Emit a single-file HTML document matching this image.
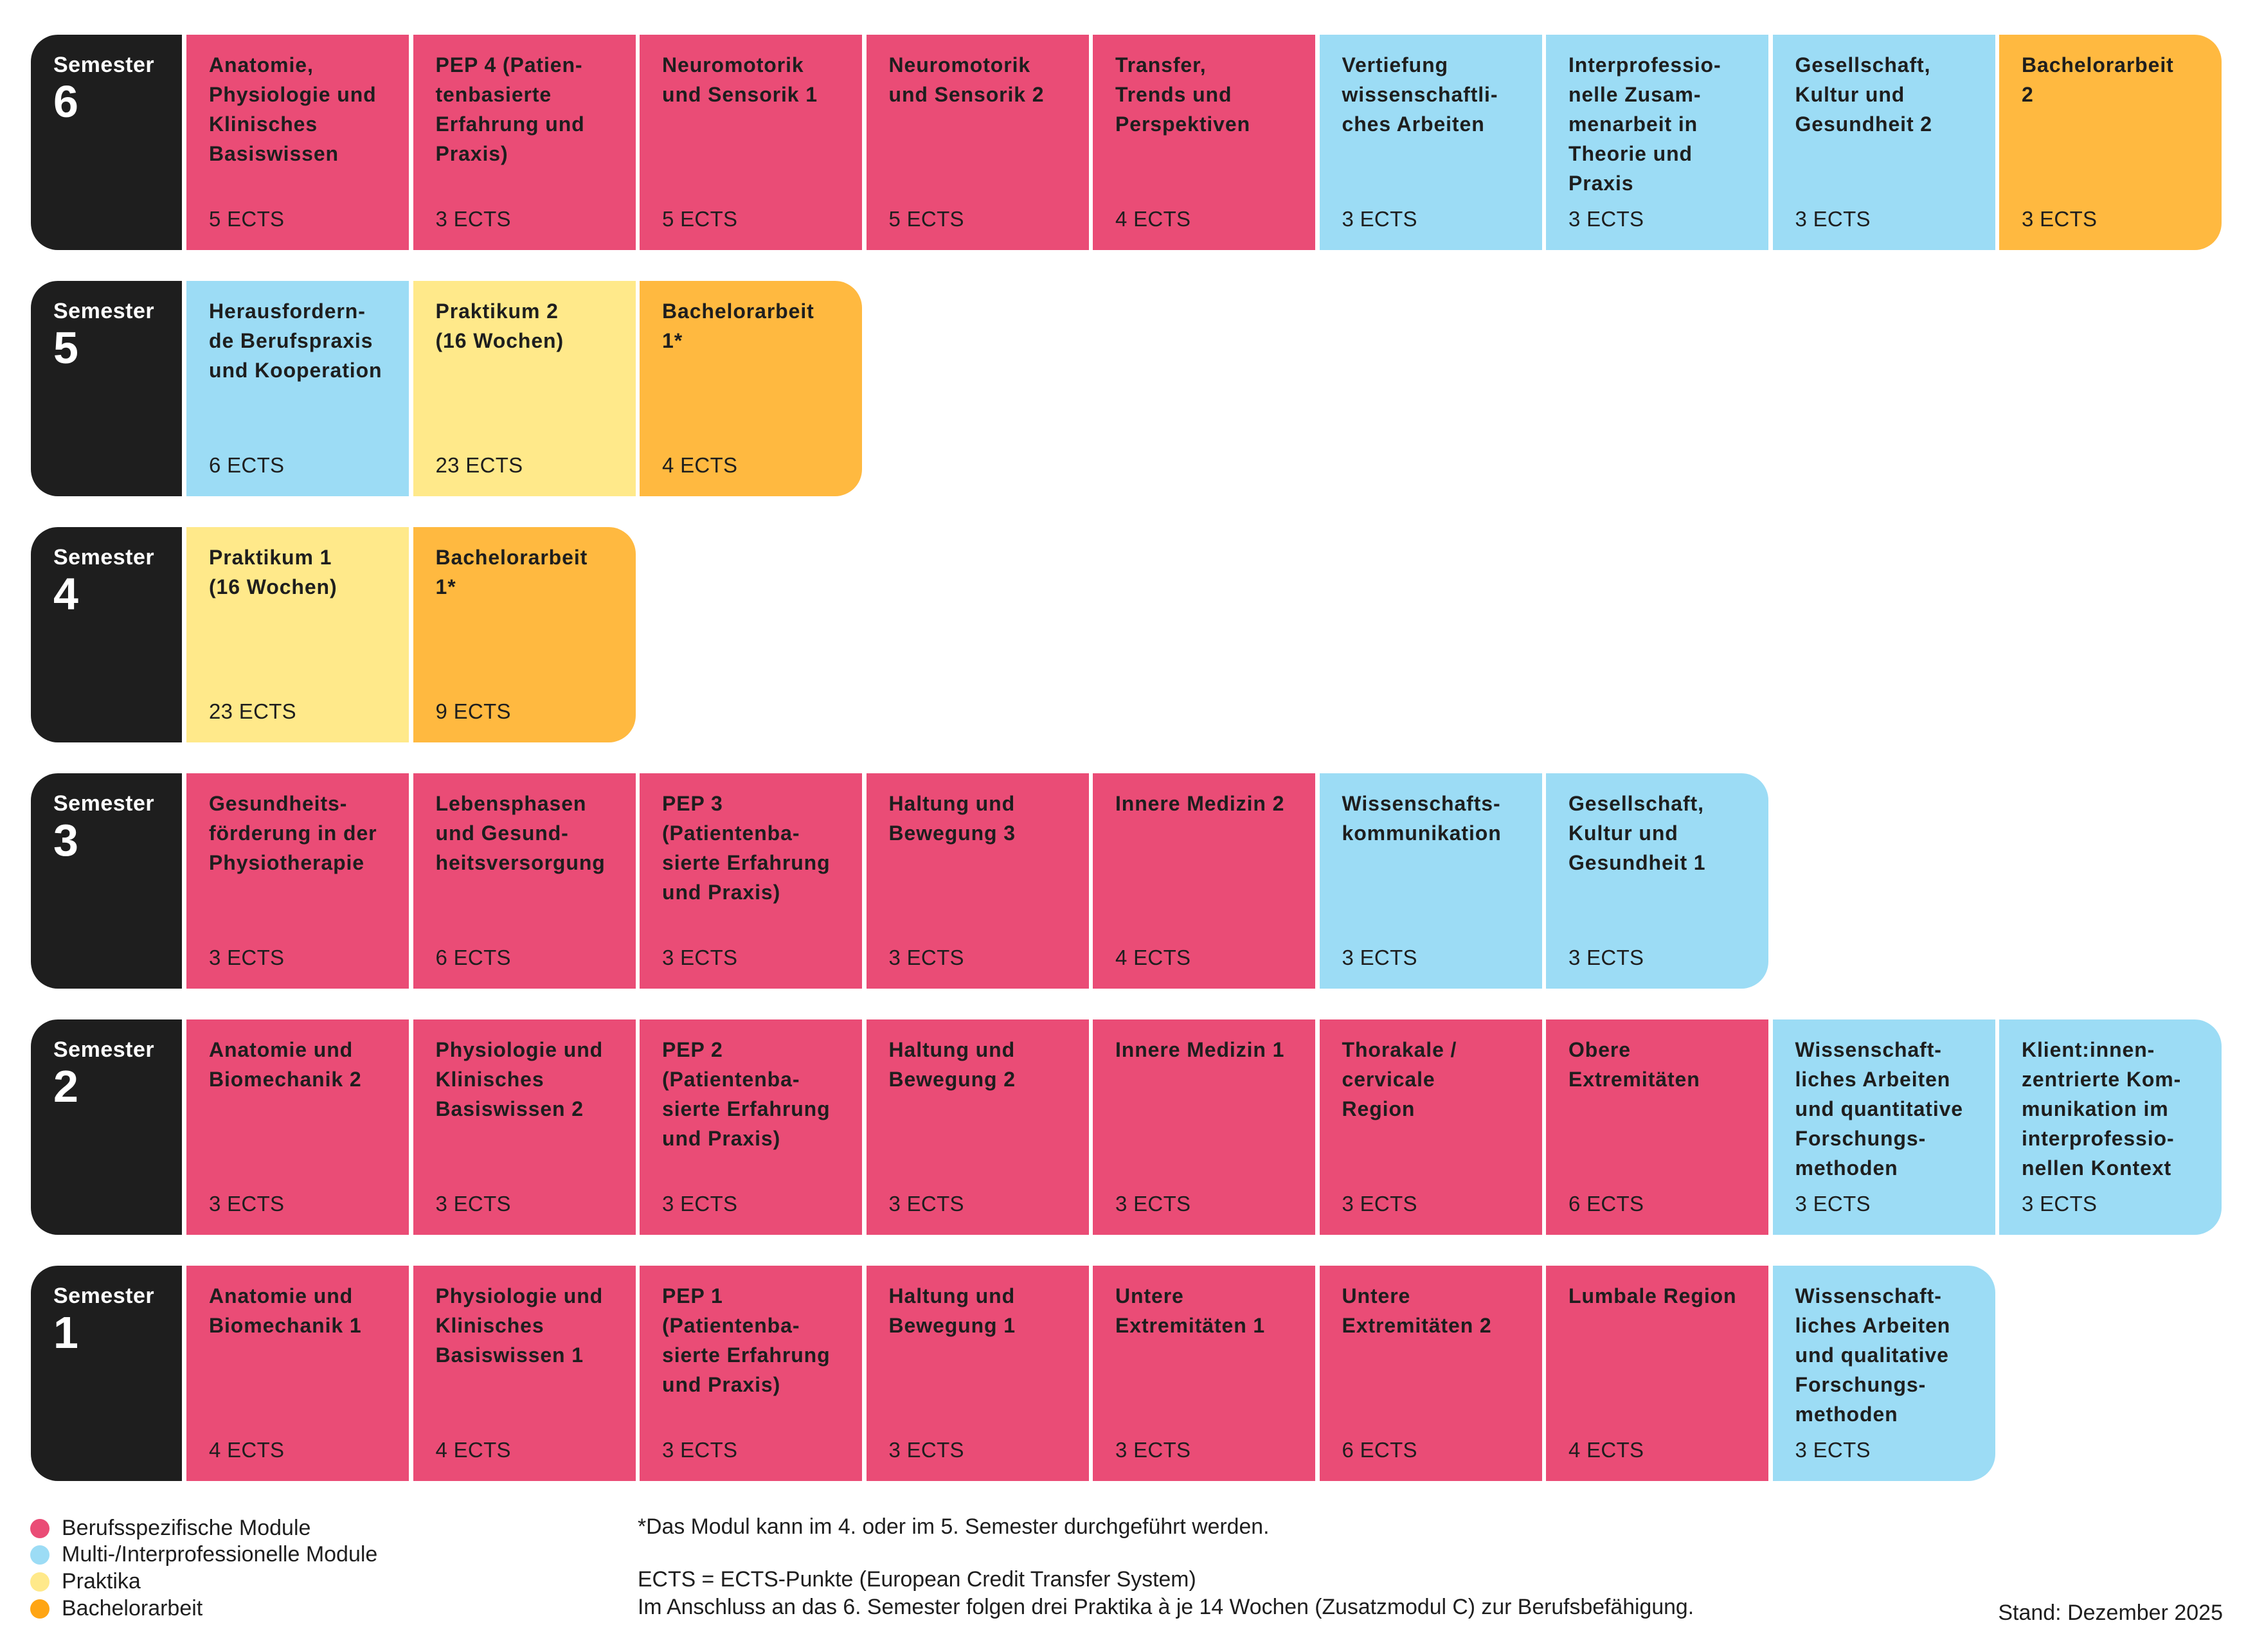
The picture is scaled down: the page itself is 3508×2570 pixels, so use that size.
<!DOCTYPE html>
<html><head><meta charset="utf-8"><style>
body{margin:0;width:3508px;height:2570px;background:#fff;position:relative;overflow:hidden;font-family:"Liberation Sans",Arial,sans-serif;color:#1e1e1e}
.c{position:absolute;height:335px;box-sizing:border-box}
.s{background:#1e1e1e;color:#fff;border-radius:42px 0 0 42px;left:48px;width:235px}
.s .a{position:absolute;left:35px;top:24px;font-weight:bold;font-size:34px;line-height:46px;letter-spacing:0.5px}
.s .n{position:absolute;left:35px;top:69px;font-weight:bold;font-size:70px;line-height:1}
.m .t{position:absolute;left:35px;top:24px;font-weight:bold;font-size:32px;line-height:46px;letter-spacing:0.9px;white-space:nowrap}
.m .e{position:absolute;left:35px;top:264px;font-size:33px;line-height:46px;letter-spacing:0.3px}
.p{background:#ea4c76}.b{background:#9cdcf5}.y{background:#ffe98a}.o{background:#ffb940}
.r{border-radius:0 42px 42px 0}
.lg{position:absolute;left:96px;font-size:34px;line-height:42px}
.d{position:absolute;left:47px;width:30px;height:30px;border-radius:50%}
.nt{position:absolute;left:992px;font-size:33.8px;line-height:42px}
</style></head><body>
<div id="w"></div>
<script>
var rows=[
["6",[["p","Anatomie,<br>Physiologie und<br>Klinisches<br>Basiswissen","5"],["p","PEP 4 (Patien-<br>tenbasierte<br>Erfahrung und<br>Praxis)","3"],["p","Neuromotorik<br>und Sensorik 1","5"],["p","Neuromotorik<br>und Sensorik 2","5"],["p","Transfer,<br>Trends und<br>Perspektiven","4"],["b","Vertiefung<br>wissenschaftli-<br>ches Arbeiten","3"],["b","Interprofessio-<br>nelle Zusam-<br>menarbeit in<br>Theorie und<br>Praxis","3"],["b","Gesellschaft,<br>Kultur und<br>Gesundheit 2","3"],["o","Bachelorarbeit<br>2","3"]]],
["5",[["b","Herausfordern-<br>de Berufspraxis<br>und Kooperation","6"],["y","Praktikum 2<br>(16 Wochen)","23"],["o","Bachelorarbeit<br>1*","4"]]],
["4",[["y","Praktikum 1<br>(16 Wochen)","23"],["o","Bachelorarbeit<br>1*","9"]]],
["3",[["p","Gesundheits-<br>förderung in der<br>Physiotherapie","3"],["p","Lebensphasen<br>und Gesund-<br>heitsversorgung","6"],["p","PEP 3<br>(Patientenba-<br>sierte Erfahrung<br>und Praxis)","3"],["p","Haltung und<br>Bewegung 3","3"],["p","Innere Medizin 2","4"],["b","Wissenschafts-<br>kommunikation","3"],["b","Gesellschaft,<br>Kultur und<br>Gesundheit 1","3"]]],
["2",[["p","Anatomie und<br>Biomechanik 2","3"],["p","Physiologie und<br>Klinisches<br>Basiswissen 2","3"],["p","PEP 2<br>(Patientenba-<br>sierte Erfahrung<br>und Praxis)","3"],["p","Haltung und<br>Bewegung 2","3"],["p","Innere Medizin 1","3"],["p","Thorakale /<br>cervicale<br>Region","3"],["p","Obere<br>Extremitäten","6"],["b","Wissenschaft-<br>liches Arbeiten<br>und quantitative<br>Forschungs-<br>methoden","3"],["b","Klient:innen-<br>zentrierte Kom-<br>munikation im<br>interprofessio-<br>nellen Kontext","3"]]],
["1",[["p","Anatomie und<br>Biomechanik 1","4"],["p","Physiologie und<br>Klinisches<br>Basiswissen 1","4"],["p","PEP 1<br>(Patientenba-<br>sierte Erfahrung<br>und Praxis)","3"],["p","Haltung und<br>Bewegung 1","3"],["p","Untere<br>Extremitäten 1","3"],["p","Untere<br>Extremitäten 2","6"],["p","Lumbale Region","4"],["b","Wissenschaft-<br>liches Arbeiten<br>und qualitative<br>Forschungs-<br>methoden","3"]]]];
var h="";
rows.forEach(function(r,i){var top=54+i*383;
h+='<div class="c s" style="top:'+top+'px"><div class="a">Semester</div><div class="n">'+r[0]+'</div></div>';
r[1].forEach(function(m,j){var l=290+j*352.5;var last=j==r[1].length-1;
h+='<div class="c m '+m[0]+(last?' r':'')+'" style="top:'+top+'px;left:'+l+'px;width:346px"><div class="t">'+m[1]+'</div><div class="e">'+m[2]+' ECTS</div></div>';});});
document.getElementById("w").innerHTML=h;
</script>
<div class="d" style="top:2363px;background:#ea4c76"></div><div class="lg" style="top:2356px">Berufsspezifische Module</div>
<div class="d" style="top:2404px;background:#9cdcf5"></div><div class="lg" style="top:2397px">Multi-/Interprofessionelle Module</div>
<div class="d" style="top:2446px;background:#ffe98a"></div><div class="lg" style="top:2439px">Praktika</div>
<div class="d" style="top:2488px;background:#ffa514"></div><div class="lg" style="top:2481px">Bachelorarbeit</div>
<div class="nt" style="top:2354px">*Das Modul kann im 4. oder im 5. Semester durchgeführt werden.</div>
<div class="nt" style="top:2436px">ECTS = ECTS-Punkte (European Credit Transfer System)</div>
<div class="nt" style="top:2479px">Im Anschluss an das 6. Semester folgen drei Praktika à je 14 Wochen (Zusatzmodul C) zur Berufsbefähigung.</div>
<div style="position:absolute;right:50px;top:2488px;font-size:34px;line-height:42px">Stand: Dezember 2025</div>
</body></html>
